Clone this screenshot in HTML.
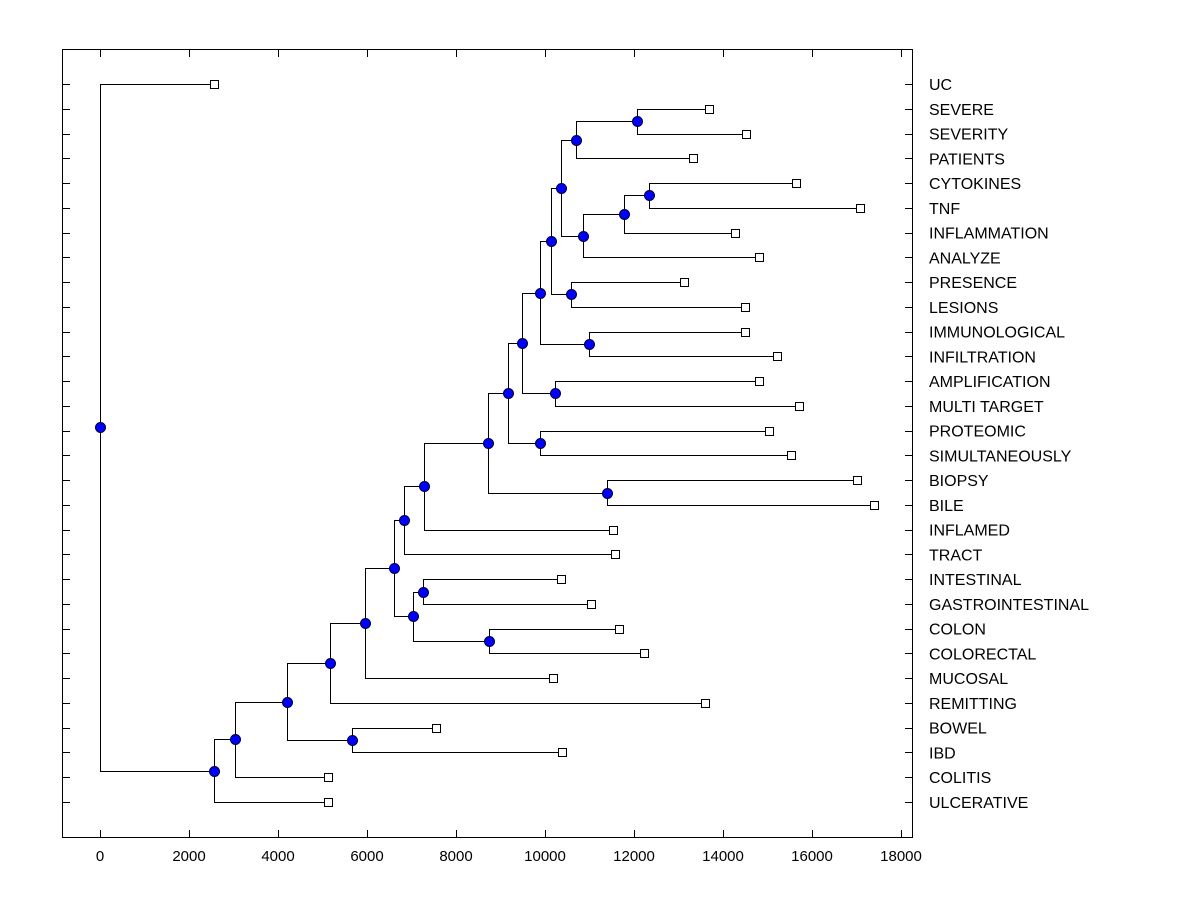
<!DOCTYPE html>
<html><head><meta charset="utf-8"><style>
html,body{margin:0;padding:0;background:#fff;}
svg{display:block;font-family:"Liberation Sans",Arial,sans-serif;}
</style></head><body>
<svg id="chart" width="1200" height="900" viewBox="0 0 1200 900" xmlns="http://www.w3.org/2000/svg">
<rect x="0" y="0" width="1200" height="900" fill="#fff"/>
<rect x="62.5" y="49.5" width="850" height="788" fill="none" stroke="#000" stroke-width="1"/>
</svg>
<script>
const leafNames = ["UC","SEVERE","SEVERITY","PATIENTS","CYTOKINES","TNF","INFLAMMATION","ANALYZE","PRESENCE","LESIONS","IMMUNOLOGICAL","INFILTRATION","AMPLIFICATION","MULTI TARGET","PROTEOMIC","SIMULTANEOUSLY","BIOPSY","BILE","INFLAMED","TRACT","INTESTINAL","GASTROINTESTINAL","COLON","COLORECTAL","MUCOSAL","REMITTING","BOWEL","IBD","COLITIS","ULCERATIVE"];
const leafValues = [2560,13690,14520,13330,15640,17080,14270,14810,13120,14490,14490,15210,14810,15710,15030,15530,17010,17390,11530,11570,10360,11030,11660,12220,10180,13600,7550,10380,5120,5120];
const M = [
 ["CYTOKINES","TNF",12340],        //0
 ["#0","INFLAMMATION",11780],      //1
 ["#1","ANALYZE",10850],           //2
 ["SEVERE","SEVERITY",12070],      //3
 ["#3","PATIENTS",10700],          //4
 ["#4","#2",10360],                //5
 ["PRESENCE","LESIONS",10580],     //6
 ["#5","#6",10130],                //7
 ["IMMUNOLOGICAL","INFILTRATION",10990], //8
 ["#7","#8",9890],                 //9
 ["AMPLIFICATION","MULTI TARGET",10220], //10
 ["#9","#10",9480],                //11
 ["PROTEOMIC","SIMULTANEOUSLY",9890], //12
 ["#11","#12",9170],               //13
 ["BIOPSY","BILE",11390],          //14
 ["#13","#14",8720],               //15
 ["#15","INFLAMED",7280],          //16
 ["#16","TRACT",6830],             //17
 ["INTESTINAL","GASTROINTESTINAL",7260], //18
 ["COLON","COLORECTAL",8740],      //19
 ["#18","#19",7030],               //20
 ["#17","#20",6610],               //21
 ["#21","MUCOSAL",5960],           //22
 ["#22","REMITTING",5170],         //23
 ["BOWEL","IBD",5660],             //24
 ["#23","#24",4200],               //25
 ["#25","COLITIS",3030],           //26
 ["#26","ULCERATIVE",2555],        //27
 ["UC","#27",0]                    //28
];
const xTicks = [0,2000,4000,6000,8000,10000,12000,14000,16000,18000];
</script>
<script>
const NS="http://www.w3.org/2000/svg";
const svg=document.getElementById('chart');
const x=v=>100+v*(801/18000);
const y0=84, dy=(802-84)/(leafNames.length-1);
const yi=i=>y0+i*dy;
function mk(t,a){const e=document.createElementNS(NS,t);for(const k in a)e.setAttribute(k,a[k]);svg.appendChild(e);return e;}
leafNames.forEach((n,i)=>{
  const yy=Math.round(yi(i))+0.5;
  let t=mk('line',{x1:62,x2:70,y1:yy,y2:yy,stroke:'#000'});
  
  
  t=mk('line',{x1:905,x2:913,y1:yy,y2:yy,stroke:'#000'});
  
  
  const lb=mk('text',{x:929,y:yi(i)+6,'font-size':16,fill:'#000'});
  lb.textContent=n;
  
  
});
xTicks.forEach(v=>{
  const xx=Math.round(x(v))+0.5;
  let t=mk('line',{x1:xx,x2:xx,y1:49,y2:57,stroke:'#000'});
  
  
  t=mk('line',{x1:xx,x2:xx,y1:830,y2:838,stroke:'#000'});
  
  
  const lb=mk('text',{x:x(v),y:861,'font-size':15,'text-anchor':'middle',fill:'#000'});
  lb.textContent=v;
  
  
});
const pos={};
leafNames.forEach((n,i)=>{pos[n]={x:x(leafValues[i]),y:yi(i)};});
const dots=[];
M.forEach((m,k)=>{
  const a=pos[m[0]],b=pos[m[1]],nx=x(m[2]),ny=(a.y+b.y)/2;
  pos['#'+k]={x:nx,y:ny};
  const p=mk('path',{d:`M${a.x},${Math.round(a.y)+0.5}H${Math.round(nx)+0.5}V${Math.round(b.y)+0.5}H${b.x}`,fill:'none',stroke:'#000','stroke-width':1});
  
  
  dots.push([nx,ny]);
});
leafNames.forEach(n=>{
  const p=pos[n];
  const r=mk('rect',{x:Math.round(p.x)-3.5,y:Math.round(p.y)-3.5,width:8,height:8,fill:'#fff',stroke:'#000'});
  
  
});
dots.forEach(d=>{
  const c=mk('circle',{cx:Math.round(d[0])+0.5,cy:Math.round(d[1])+0.5,r:5,fill:'#0000ff',stroke:'#000033','stroke-width':1});
  
  
});
</script>
</body></html>
